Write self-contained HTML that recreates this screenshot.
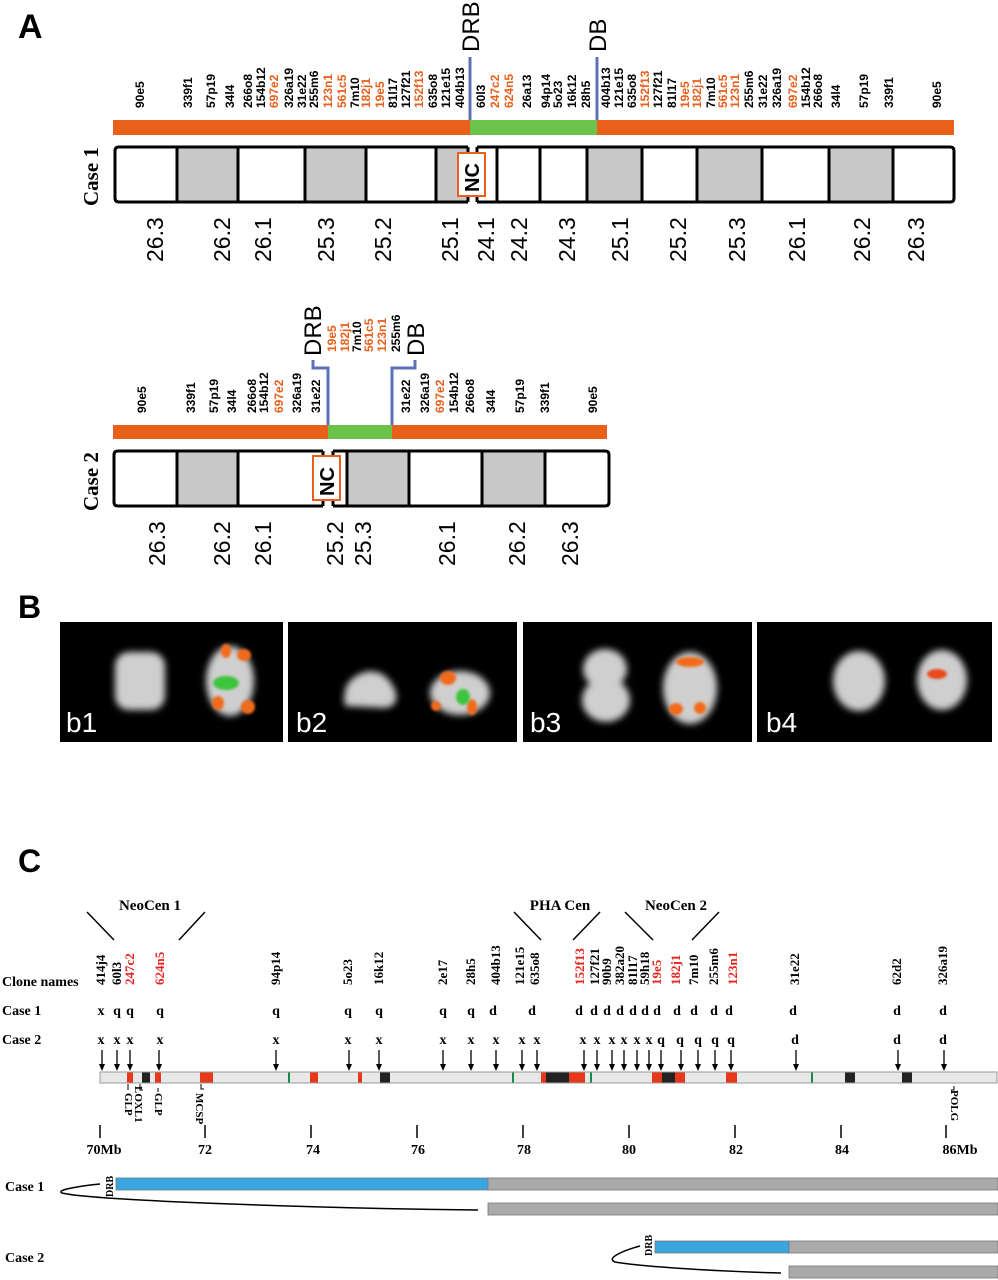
<!DOCTYPE html>
<html><head><meta charset="utf-8"><style>
html,body{margin:0;padding:0;background:#fff;width:998px;height:1280px;overflow:hidden}
svg{display:block}
.s{font-family:"Liberation Sans",sans-serif}
.cl{font-family:"Liberation Sans",sans-serif;font-size:12px;font-weight:bold;fill:#000}
.o{fill:#e8601c}
.bl{font-family:"Liberation Sans",sans-serif;font-size:23px;fill:#000}
.sf{font-family:"Liberation Serif",serif;font-weight:bold}
.cc{font-family:"Liberation Serif",serif;font-weight:bold;font-size:13px;fill:#000}
.r{fill:#e8231c}
</style></head><body>
<svg width="998" height="1280" viewBox="0 0 998 1280" xmlns="http://www.w3.org/2000/svg">
<defs><filter id="bl" x="-30%" y="-30%" width="160%" height="160%"><feGaussianBlur stdDeviation="3.5"/></filter>
<filter id="bl2"><feGaussianBlur stdDeviation="1.2"/></filter></defs>
<text x="18" y="38" class="s" font-size="34" font-weight="bold">A</text>
<g class="cl">
<text transform="translate(144,108) rotate(-90)">90e5</text>
<text transform="translate(192,108) rotate(-90)">339f1</text>
<text transform="translate(215,108) rotate(-90)">57p19</text>
<text transform="translate(234,108) rotate(-90)">34l4</text>
<text transform="translate(252,108) rotate(-90)">266o8</text>
<text transform="translate(265,108) rotate(-90)">154b12</text>
<text class="o" transform="translate(278,108) rotate(-90)">697e2</text>
<text transform="translate(293,108) rotate(-90)">326a19</text>
<text transform="translate(306,108) rotate(-90)">31e22</text>
<text transform="translate(318,108) rotate(-90)">255m6</text>
<text class="o" transform="translate(332,108) rotate(-90)">123n1</text>
<text class="o" transform="translate(346,108) rotate(-90)">561c5</text>
<text transform="translate(359,108) rotate(-90)">7m10</text>
<text class="o" transform="translate(370,108) rotate(-90)">182j1</text>
<text class="o" transform="translate(384,108) rotate(-90)">19e5</text>
<text transform="translate(397,108) rotate(-90)">81l17</text>
<text transform="translate(410,108) rotate(-90)">127f21</text>
<text class="o" transform="translate(423,108) rotate(-90)">152f13</text>
<text transform="translate(437,108) rotate(-90)">635o8</text>
<text transform="translate(450,108) rotate(-90)">121e15</text>
<text transform="translate(464,108) rotate(-90)">404b13</text>
<text transform="translate(485,108) rotate(-90)">60l3</text>
<text class="o" transform="translate(499,108) rotate(-90)">247c2</text>
<text class="o" transform="translate(513,108) rotate(-90)">624n5</text>
<text transform="translate(531,108) rotate(-90)">26a13</text>
<text transform="translate(550,108) rotate(-90)">94p14</text>
<text transform="translate(562,108) rotate(-90)">5o23</text>
<text transform="translate(576,108) rotate(-90)">16k12</text>
<text transform="translate(590,108) rotate(-90)">28h5</text>
<text transform="translate(610,108) rotate(-90)">404b13</text>
<text transform="translate(623,108) rotate(-90)">121e15</text>
<text transform="translate(636,108) rotate(-90)">635o8</text>
<text class="o" transform="translate(649,108) rotate(-90)">152f13</text>
<text transform="translate(662,108) rotate(-90)">127f21</text>
<text transform="translate(676,108) rotate(-90)">81l17</text>
<text class="o" transform="translate(689,108) rotate(-90)">19e5</text>
<text class="o" transform="translate(701,108) rotate(-90)">182j1</text>
<text transform="translate(715,108) rotate(-90)">7m10</text>
<text class="o" transform="translate(727,108) rotate(-90)">561c5</text>
<text class="o" transform="translate(739,108) rotate(-90)">123n1</text>
<text transform="translate(753,108) rotate(-90)">255m6</text>
<text transform="translate(767,108) rotate(-90)">31e22</text>
<text transform="translate(781,108) rotate(-90)">326a19</text>
<text class="o" transform="translate(797,108) rotate(-90)">697e2</text>
<text transform="translate(810,108) rotate(-90)">154b12</text>
<text transform="translate(822,108) rotate(-90)">266o8</text>
<text transform="translate(840,108) rotate(-90)">34l4</text>
<text transform="translate(868,108) rotate(-90)">57p19</text>
<text transform="translate(893,108) rotate(-90)">339f1</text>
<text transform="translate(941,108) rotate(-90)">90e5</text>
</g>
<text class="s" font-size="24" transform="translate(479,52) rotate(-90)">DRB</text>
<text class="s" font-size="24" transform="translate(606,52) rotate(-90)">DB</text>
<line x1="470" y1="57" x2="470" y2="121" stroke="#6070b8" stroke-width="3"/>
<line x1="597" y1="57" x2="597" y2="121" stroke="#6070b8" stroke-width="3"/>
<rect x="113" y="120" width="841" height="15" fill="#e8601c"/>
<rect x="470" y="120" width="127" height="15" fill="#6cc24a"/>
<rect x="177" y="147" width="61" height="55" fill="#c8c8c8"/>
<rect x="305" y="147" width="61" height="55" fill="#c8c8c8"/>
<rect x="436" y="147" width="32" height="55" fill="#c8c8c8"/>
<rect x="587" y="147" width="55" height="55" fill="#c8c8c8"/>
<rect x="697" y="147" width="65" height="55" fill="#c8c8c8"/>
<rect x="829" y="147" width="64" height="55" fill="#c8c8c8"/>
<g stroke="#000" stroke-width="3" fill="none">
<path d="M468,147 H119 Q115,147 115,151 V198 Q115,202 119,202 H468"/>
<path d="M477,147 H950 Q954,147 954,151 V198 Q954,202 950,202 H477"/>
<path d="M468,147V202M477,147V202M177,147V202M238,147V202M305,147V202M366,147V202M436,147V202M497,147V202M540,147V202M587,147V202M642,147V202M697,147V202M762,147V202M829,147V202M893,147V202"/>
</g>
<rect x="458" y="153" width="27" height="43" fill="#fff" stroke="#e8601c" stroke-width="2"/>
<text class="s" font-size="20" font-weight="bold" transform="translate(479,192) rotate(-90)">NC</text>
<text class="sf" font-size="21" transform="translate(98,206) rotate(-90)">Case 1</text>
<g class="bl">
<text transform="translate(163,262) rotate(-90)">26.3</text>
<text transform="translate(230,262) rotate(-90)">26.2</text>
<text transform="translate(271,262) rotate(-90)">26.1</text>
<text transform="translate(334,262) rotate(-90)">25.3</text>
<text transform="translate(391,262) rotate(-90)">25.2</text>
<text transform="translate(458,262) rotate(-90)">25.1</text>
<text transform="translate(494,262) rotate(-90)">24.1</text>
<text transform="translate(527,262) rotate(-90)">24.2</text>
<text transform="translate(575,262) rotate(-90)">24.3</text>
<text transform="translate(628,262) rotate(-90)">25.1</text>
<text transform="translate(686,262) rotate(-90)">25.2</text>
<text transform="translate(745,262) rotate(-90)">25.3</text>
<text transform="translate(805,262) rotate(-90)">26.1</text>
<text transform="translate(870,262) rotate(-90)">26.2</text>
<text transform="translate(924,262) rotate(-90)">26.3</text>
</g>
<g class="cl">
<text class="o" transform="translate(336,352) rotate(-90)">19e5</text>
<text class="o" transform="translate(349,352) rotate(-90)">182j1</text>
<text transform="translate(361,352) rotate(-90)">7m10</text>
<text class="o" transform="translate(373,352) rotate(-90)">561c5</text>
<text class="o" transform="translate(386,352) rotate(-90)">123n1</text>
<text transform="translate(400,352) rotate(-90)">255m6</text>
<text transform="translate(146,413) rotate(-90)">90e5</text>
<text transform="translate(195,413) rotate(-90)">339f1</text>
<text transform="translate(218,413) rotate(-90)">57p19</text>
<text transform="translate(236,413) rotate(-90)">34l4</text>
<text transform="translate(256,413) rotate(-90)">266o8</text>
<text transform="translate(268,413) rotate(-90)">154b12</text>
<text class="o" transform="translate(283,413) rotate(-90)">697e2</text>
<text transform="translate(301,413) rotate(-90)">326a19</text>
<text transform="translate(320,413) rotate(-90)">31e22</text>
<text transform="translate(410,413) rotate(-90)">31e22</text>
<text transform="translate(429,413) rotate(-90)">326a19</text>
<text class="o" transform="translate(444,413) rotate(-90)">697e2</text>
<text transform="translate(458,413) rotate(-90)">154b12</text>
<text transform="translate(474,413) rotate(-90)">266o8</text>
<text transform="translate(495,413) rotate(-90)">34l4</text>
<text transform="translate(524,413) rotate(-90)">57p19</text>
<text transform="translate(549,413) rotate(-90)">339f1</text>
<text transform="translate(597,413) rotate(-90)">90e5</text>
</g>
<text class="s" font-size="24" transform="translate(321,356) rotate(-90)">DRB</text>
<text class="s" font-size="24" transform="translate(424,356) rotate(-90)">DB</text>
<path d="M313,360 V368 H328 V426 M415,360 V368 H392 V426" stroke="#6070b8" stroke-width="3" fill="none"/>
<rect x="113" y="425" width="494" height="14" fill="#e8601c"/>
<rect x="328" y="425" width="64" height="14" fill="#6cc24a"/>
<rect x="177" y="451" width="61" height="55" fill="#c8c8c8"/>
<rect x="347" y="451" width="62" height="55" fill="#c8c8c8"/>
<rect x="482" y="451" width="63" height="55" fill="#c8c8c8"/>
<g stroke="#000" stroke-width="3" fill="none">
<path d="M323,451 H118 Q114,451 114,455 V502 Q114,506 118,506 H323"/>
<path d="M333,451 H605 Q609,451 609,455 V502 Q609,506 605,506 H333"/>
<path d="M323,451V506M333,451V506M177,451V506M238,451V506M347,451V506M409,451V506M482,451V506M545,451V506"/>
</g>
<rect x="313" y="456" width="27" height="44" fill="#fff" stroke="#e8601c" stroke-width="2"/>
<text class="s" font-size="20" font-weight="bold" transform="translate(334,496) rotate(-90)">NC</text>
<text class="sf" font-size="21" transform="translate(98,511) rotate(-90)">Case 2</text>
<g class="bl">
<text transform="translate(165,566) rotate(-90)">26.3</text>
<text transform="translate(230,566) rotate(-90)">26.2</text>
<text transform="translate(271,566) rotate(-90)">26.1</text>
<text transform="translate(343,566) rotate(-90)">25.2</text>
<text transform="translate(371,566) rotate(-90)">25.3</text>
<text transform="translate(455,566) rotate(-90)">26.1</text>
<text transform="translate(525,566) rotate(-90)">26.2</text>
<text transform="translate(578,566) rotate(-90)">26.3</text>
</g>
<text x="18" y="618" class="s" font-size="32" font-weight="bold">B</text>
<rect x="60" y="622" width="223" height="120" fill="#000"/>
<rect x="288" y="622" width="229" height="120" fill="#000"/>
<rect x="523" y="622" width="229" height="120" fill="#000"/>
<rect x="757" y="622" width="235" height="120" fill="#000"/>
<g filter="url(#bl)" fill="#cfcfcf">
<rect x="115" y="652" width="50" height="58" rx="14"/>
<ellipse cx="230" cy="681" rx="24" ry="35"/>
<path d="M345,706 Q340,680 365,672 Q385,668 395,690 Q400,706 385,708 Z"/>
<ellipse cx="460" cy="693" rx="30" ry="22"/>
<ellipse cx="605" cy="669" rx="22" ry="20"/><ellipse cx="606" cy="700" rx="24" ry="22"/>
<ellipse cx="690" cy="688" rx="27" ry="36"/>
<ellipse cx="859" cy="681" rx="26" ry="30"/>
<ellipse cx="942" cy="680" rx="25" ry="30"/>
</g>
<g filter="url(#bl2)" fill="#f26a1e">
<ellipse cx="226" cy="651" rx="5" ry="7"/><ellipse cx="244" cy="655" rx="7" ry="6"/>
<ellipse cx="218" cy="703" rx="6" ry="7"/><ellipse cx="248" cy="707" rx="7" ry="7"/>
<ellipse cx="448" cy="678" rx="8" ry="7"/><ellipse cx="436" cy="706" rx="5" ry="5"/><ellipse cx="472" cy="707" rx="5" ry="8"/>
<ellipse cx="690" cy="662" rx="14" ry="5"/><ellipse cx="676" cy="709" rx="7" ry="6"/><ellipse cx="700" cy="708" rx="6" ry="6"/>
<ellipse cx="937" cy="674" rx="10" ry="5" fill="#e84a1a"/>
</g>
<g filter="url(#bl2)" fill="#3cc43c">
<ellipse cx="226" cy="683" rx="13" ry="7"/><ellipse cx="463" cy="697" rx="7" ry="8"/>
</g>
<g class="s" font-size="28" fill="#fff">
<text x="66" y="732">b1</text><text x="296" y="732">b2</text><text x="530" y="732">b3</text><text x="766" y="732">b4</text>
</g>
<text x="18" y="872" class="s" font-size="32" font-weight="bold">C</text>
<g class="sf" font-size="15">
<text x="150" y="910" text-anchor="middle">NeoCen 1</text>
<text x="560" y="910" text-anchor="middle">PHA Cen</text>
<text x="676" y="910" text-anchor="middle">NeoCen 2</text>
</g>
<g stroke="#000" stroke-width="1.5">
<line x1="87" y1="912" x2="114" y2="940"/><line x1="205" y1="912" x2="179" y2="940"/>
<line x1="514" y1="912" x2="541" y2="940"/><line x1="600" y1="912" x2="573" y2="940"/>
<line x1="625" y1="912" x2="653" y2="940"/><line x1="719" y1="912" x2="692" y2="940"/>
</g>
<g class="cc">
<text transform="translate(105,985) rotate(-90)">414j4</text>
<text transform="translate(121,985) rotate(-90)">60l3</text>
<text class="r" transform="translate(134,985) rotate(-90)">247c2</text>
<text class="r" transform="translate(164,985) rotate(-90)">624n5</text>
<text transform="translate(280,985) rotate(-90)">94p14</text>
<text transform="translate(352,985) rotate(-90)">5o23</text>
<text transform="translate(383,985) rotate(-90)">16k12</text>
<text transform="translate(447,985) rotate(-90)">2e17</text>
<text transform="translate(475,985) rotate(-90)">28h5</text>
<text transform="translate(500,985) rotate(-90)">404b13</text>
<text transform="translate(524,985) rotate(-90)">121e15</text>
<text transform="translate(539,985) rotate(-90)">635o8</text>
<text class="r" transform="translate(584,985) rotate(-90)">152f13</text>
<text transform="translate(599,985) rotate(-90)">127f21</text>
<text transform="translate(611,985) rotate(-90)">90b9</text>
<text transform="translate(624,985) rotate(-90)">382a20</text>
<text transform="translate(637,985) rotate(-90)">81l17</text>
<text transform="translate(649,985) rotate(-90)">59h18</text>
<text class="r" transform="translate(661,985) rotate(-90)">19e5</text>
<text class="r" transform="translate(680,985) rotate(-90)">182j1</text>
<text transform="translate(698,985) rotate(-90)">7m10</text>
<text transform="translate(718,985) rotate(-90)">255m6</text>
<text class="r" transform="translate(737,985) rotate(-90)">123n1</text>
<text transform="translate(799,985) rotate(-90)">31e22</text>
<text transform="translate(901,985) rotate(-90)">62d2</text>
<text transform="translate(947,985) rotate(-90)">326a19</text>
</g>
<g class="sf" font-size="14">
<text x="2" y="986">Clone names</text>
<text x="2" y="1015">Case 1</text>
<text x="2" y="1044">Case 2</text>
</g>
<g class="sf" font-size="14" text-anchor="middle">
<text x="101" y="1015">x</text><text x="117" y="1015">q</text><text x="130" y="1015">q</text><text x="160" y="1015">q</text><text x="276" y="1015">q</text><text x="348" y="1015">q</text><text x="379" y="1015">q</text><text x="443" y="1015">q</text><text x="471" y="1015">q</text><text x="493" y="1015">d</text><text x="532" y="1015">d</text><text x="579" y="1015">d</text><text x="594" y="1015">d</text><text x="607" y="1015">d</text><text x="620" y="1015">d</text><text x="633" y="1015">d</text><text x="645" y="1015">d</text><text x="657" y="1015">d</text><text x="677" y="1015">d</text><text x="694" y="1015">d</text><text x="714" y="1015">d</text><text x="729" y="1015">d</text><text x="793" y="1015">d</text><text x="897" y="1015">d</text><text x="943" y="1015">d</text>
<text x="101" y="1044">x</text><text x="117" y="1044">x</text><text x="130" y="1044">x</text><text x="160" y="1044">x</text><text x="276" y="1044">x</text><text x="348" y="1044">x</text><text x="379" y="1044">x</text><text x="443" y="1044">x</text><text x="471" y="1044">x</text><text x="496" y="1044">x</text><text x="522" y="1044">x</text><text x="537" y="1044">x</text><text x="583" y="1044">x</text><text x="597" y="1044">x</text><text x="612" y="1044">x</text><text x="624" y="1044">x</text><text x="637" y="1044">x</text><text x="649" y="1044">x</text><text x="661" y="1044">q</text><text x="680" y="1044">q</text><text x="698" y="1044">q</text><text x="715" y="1044">q</text><text x="731" y="1044">q</text><text x="795" y="1044">d</text><text x="897" y="1044">d</text><text x="943" y="1044">d</text>
</g>
<g stroke="#000" stroke-width="1.3">
<path d="M102,1050V1068M117,1050V1068M130,1050V1068M159,1050V1068M276,1050V1068M349,1050V1068M379,1050V1068M443,1050V1068M471,1050V1068M496,1050V1068M522,1050V1068M537,1050V1068M584,1050V1068M597,1050V1068M612,1050V1068M624,1050V1068M637,1050V1068M649,1050V1068M661,1050V1068M681,1050V1068M698,1050V1068M715,1050V1068M731,1050V1068M796,1050V1068M898,1050V1068M944,1050V1068"/>
</g>
<g fill="#000">
<path d="M99,1064h6l-3,7z M114,1064h6l-3,7z M127,1064h6l-3,7z M156,1064h6l-3,7z M273,1064h6l-3,7z M346,1064h6l-3,7z M376,1064h6l-3,7z M440,1064h6l-3,7z M468,1064h6l-3,7z M493,1064h6l-3,7z M519,1064h6l-3,7z M534,1064h6l-3,7z M581,1064h6l-3,7z M594,1064h6l-3,7z M609,1064h6l-3,7z M621,1064h6l-3,7z M634,1064h6l-3,7z M646,1064h6l-3,7z M658,1064h6l-3,7z M678,1064h6l-3,7z M695,1064h6l-3,7z M712,1064h6l-3,7z M728,1064h6l-3,7z M793,1064h6l-3,7z M895,1064h6l-3,7z M941,1064h6l-3,7z"/>
</g>
<rect x="100" y="1072" width="897" height="11" fill="#e8e8e8" stroke="#999" stroke-width="1"/>
<g fill="#e8381c">
<rect x="127" y="1072.5" width="6" height="10"/><rect x="155" y="1072.5" width="6" height="10"/><rect x="200" y="1072.5" width="13" height="10"/><rect x="310" y="1072.5" width="8" height="10"/><rect x="358" y="1072.5" width="4" height="10"/><rect x="541" y="1072.5" width="5" height="10"/><rect x="569" y="1072.5" width="16" height="10"/><rect x="652" y="1072.5" width="10" height="10"/><rect x="675" y="1072.5" width="10" height="10"/><rect x="726" y="1072.5" width="11" height="10"/>
</g>
<g fill="#222">
<rect x="142" y="1072.5" width="8" height="10"/><rect x="380" y="1072.5" width="10" height="10"/><rect x="546" y="1072.5" width="23" height="10"/><rect x="662" y="1072.5" width="13" height="10"/><rect x="845" y="1072.5" width="10" height="10"/><rect x="902" y="1072.5" width="10" height="10"/>
</g>
<g fill="#1a8a4a">
<rect x="288" y="1072.5" width="2" height="10"/><rect x="512" y="1072.5" width="2" height="10"/><rect x="590" y="1072.5" width="2" height="10"/><rect x="811" y="1072.5" width="2" height="10"/>
</g>
<g font-family="Liberation Serif,serif" font-size="11" font-weight="bold" fill="#000">
<text transform="translate(125,1093) rotate(90)">GLP</text>
<text transform="translate(135,1086) rotate(90)">LOXL1</text>
<text transform="translate(155,1093) rotate(90)">GLP</text>
<text transform="translate(196,1093) rotate(90)">MCSP</text>
<text transform="translate(951,1090) rotate(90)">POLG</text>
</g>
<path d="M128,1084v6M140,1084v6h3M158,1088v4M201,1084v5h3M954,1086v4h-3" stroke="#000" stroke-width="1" fill="none"/>
<path d="M100,1125v13M205,1125v13M311,1125v13M417,1125v13M523,1125v13M629,1125v13M735,1125v13M841,1125v13M946,1125v13" stroke="#000" stroke-width="1.5"/>
<g class="sf" font-size="14" text-anchor="middle">
<text x="104" y="1154">70Mb</text><text x="205" y="1154">72</text><text x="313" y="1154">74</text><text x="418" y="1154">76</text><text x="524" y="1154">78</text><text x="629" y="1154">80</text><text x="736" y="1154">82</text><text x="842" y="1154">84</text><text x="960" y="1154">86Mb</text>
</g>
<text class="sf" font-size="14" x="5" y="1191">Case  1</text>
<text class="sf" font-size="14" x="5" y="1262">Case 2</text>
<text class="sf" font-size="10" transform="translate(113,1197) rotate(-90)">DRB</text>
<text class="sf" font-size="10" transform="translate(652,1256) rotate(-90)">DRB</text>
<rect x="116" y="1178" width="372" height="12" fill="#3aa6e0" stroke="#777" stroke-width="0.8"/>
<rect x="488" y="1178" width="510" height="12" fill="#aaa" stroke="#777" stroke-width="0.8"/>
<rect x="488" y="1203" width="510" height="12" fill="#aaa" stroke="#777" stroke-width="0.8"/>
<path d="M100,1184 C80,1186 55,1190 62,1193 C90,1200 300,1208 478,1210" stroke="#000" stroke-width="1.5" fill="none"/>
<rect x="655" y="1241" width="134" height="12" fill="#3aa6e0" stroke="#777" stroke-width="0.8"/>
<rect x="789" y="1241" width="209" height="12" fill="#aaa" stroke="#777" stroke-width="0.8"/>
<rect x="789" y="1266" width="209" height="12" fill="#aaa" stroke="#777" stroke-width="0.8"/>
<path d="M640,1246 C625,1250 605,1258 615,1262 C650,1268 740,1272 781,1273" stroke="#000" stroke-width="1.5" fill="none"/>
</svg>
</body></html>
